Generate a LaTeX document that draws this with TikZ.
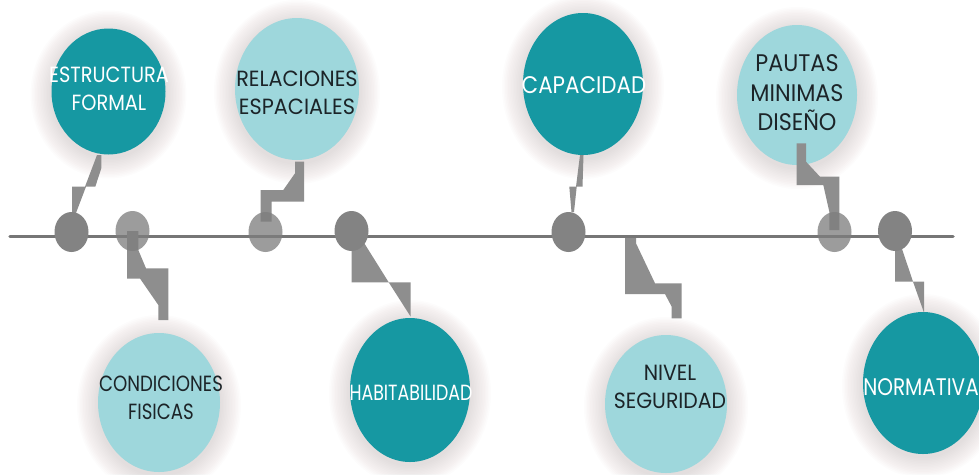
\documentclass[tikz,border=0pt]{standalone}
\usepackage{fontspec}
\newfontfamily\bubfont{Poppins}[FakeStretch=0.86]
\usetikzlibrary{shapes.geometric}
\definecolor{tealdark}{RGB}{22,152,162}
\definecolor{teallight}{RGB}{158,215,220}
\definecolor{connc}{RGB}{142,142,142}
\definecolor{markc}{RGB}{131,131,131}
\definecolor{mlightc}{RGB}{125,125,125}
\definecolor{linec}{RGB}{118,118,118}
\definecolor{txtdark}{RGB}{28,36,40}
\definecolor{shadowc}{RGB}{85,72,72}
\newcommand\mybubble[5]{%
  \foreach \k in {1,...,14}{%
    \fill[shadowc, opacity=0.013] (#1,#2+3) ellipse [x radius={#3+1.5*\k}, y radius={#4+1.5*\k}];}
  \fill[#5] (#1,#2) ellipse [x radius=#3, y radius=#4];}
\begin{document}
\begin{tikzpicture}[x=1pt,y=-1pt,
  btext/.style={align=center, inner sep=0pt, transform shape},
  small/.style={font=\bubfont\fontsize{22}{28}\selectfont},
  large/.style={font=\bubfont\fontsize{24}{29.5}\selectfont},
  wtext/.style={btext, text=white},
  dtext/.style={btext, text=txtdark},
  connector/.style={fill=connc},
  mdark/.style={ellipse, fill=markc, minimum width=34pt, minimum height=40pt, inner sep=0pt},
  mlight/.style={ellipse, fill=mlightc, fill opacity=0.76, minimum width=34pt, minimum height=40pt, inner sep=0pt}]
\useasboundingbox (0,0) rectangle (979,474);
\fill[white] (0,0) rectangle (979,474);
% bubbles
\mybubble{108.5}{91.5}{57}{63}{tealdark}
\mybubble{297}{89}{62}{71}{teallight}
\mybubble{583}{84}{60}{71}{tealdark}
\mybubble{797}{95}{60}{70}{teallight}
\mybubble{159}{402.5}{61}{69.5}{teallight}
\mybubble{410}{390}{60}{72}{tealdark}
\mybubble{666}{404}{61}{69}{teallight}
\mybubble{923}{383}{60}{71}{tealdark}
% time line
\coordinate (ls) at (10,236.5);
\coordinate (le) at (953,236.5);
\draw[linec, line width=3.5pt, line cap=round] (ls) -- (le);
% connectors
\fill[connector] (97,155) -- (101.3,155) -- (101.3,168.3) -- (95.3,186.7) -- (86,186.7) -- (76,213) -- (72,213) -- (72,186.7) -- (85,186.7) -- cycle;
\fill[connector] (127,231) -- (138.3,231) -- (138.3,250) -- (146,268.3) -- (168.3,268.3) -- (168.3,320) -- (158.3,320) -- (158.3,305) -- (140,278.5) -- (127,278.5) -- cycle;
\fill[connector] (295,161.7) -- (304,161.7) -- (304,201.7) -- (271.7,201.7) -- (271.7,221.7) -- (260.7,221.7) -- (260.7,190) -- (283.3,190) -- (295,173.3) -- cycle;
\fill[connector] (351.7,241.7) -- (363.3,241.7) -- (388.7,282.3) -- (410.7,282.3) -- (410.7,316.7) -- (388.7,282.3) -- (351.7,282.3) -- cycle;
\fill[connector] (580,155) -- (583.5,155) -- (582.5,186.7) -- (576.7,186.7) -- (574,212) -- (571.5,212) -- (569.3,186.7) -- (576,186.7) -- cycle;
\fill[connector] (625,238) -- (636,238) -- (636,243.3) -- (655,283.3) -- (681.7,283.3) -- (681.7,318.3) -- (671.7,318.3) -- (671.7,306.7) -- (665,294) -- (625,294) -- cycle;
\fill[connector] (796.7,143.3) -- (806,143.3) -- (806,161.7) -- (820,176.7) -- (839.3,176.7) -- (839.3,230) -- (829.3,230) -- (829.3,211.7) -- (823.3,185) -- (796.7,185) -- cycle;
\fill[connector] (895,245) -- (900.7,245) -- (913,281.7) -- (924,281.7) -- (924,312.7) -- (913,281.7) -- (895,281.7) -- cycle;
% markers
\node[mlight] (m2) at (132.5,231) {};
\node[mlight] (m3) at (265.5,232) {};
\node[mlight] (m6) at (834.5,232) {};
\node[mdark] (m1) at (71.5,232) {};
\node[mdark] (m4) at (351.5,231) {};
\node[mdark] (m5) at (568.5,232) {};
\node[mdark] (m7) at (895,231) {};
% texts
\node[wtext, small, xscale=1.02] (estructura) at (109,89) {ESTRUCTURA\\FORMAL};
\node[dtext, small, xscale=1.1] (relaciones) at (297,92.5) {RELACIONES\\ESPACIALES};
\node[wtext, large, xscale=1.04] (capacidad) at (584,85) {CAPACIDAD};
\node[dtext, large, xscale=1.08] (pautas) at (797,93) {PAUTAS\\MINIMAS\\DISEÑO};
\node[dtext, small, xscale=0.96] (condiciones) at (161,397.5) {CONDICIONES\\FISICAS};
\node[wtext, small, xscale=0.92] (habitabilidad) at (411,392.5) {HABITABILIDAD};
\node[dtext, small, xscale=1.08] (nivel) at (670,386.5) {NIVEL\\SEGURIDAD};
\node[wtext, large, xscale=0.97] (normativa) at (921,387) {NORMATIVA};
\end{tikzpicture}
\end{document}
